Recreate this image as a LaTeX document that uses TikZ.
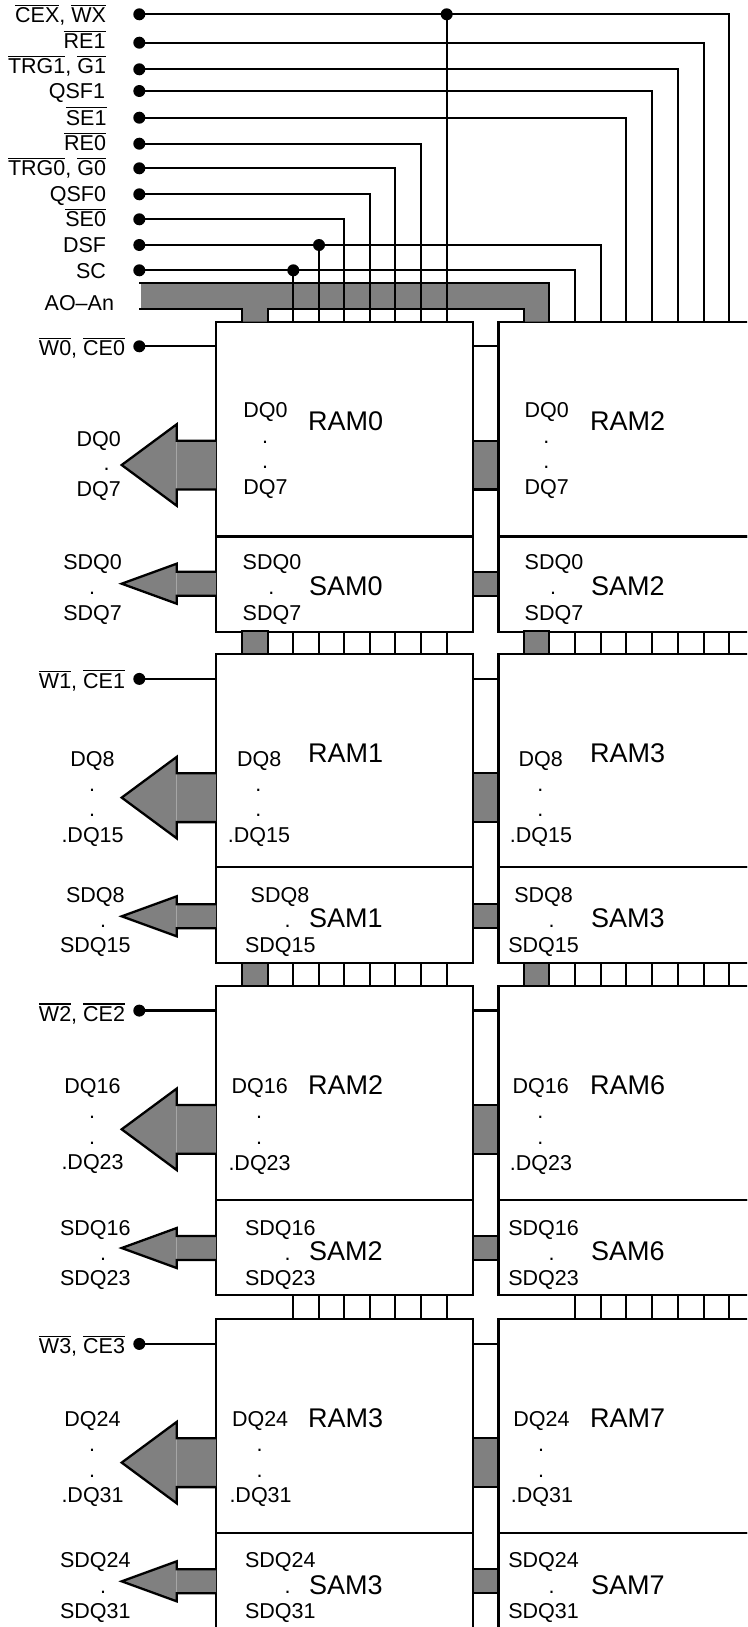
\documentclass[tikz,border=0pt]{standalone}
\usepackage{fontspec}
\setmainfont{Liberation Sans}
\definecolor{busgray}{HTML}{808080}
\definecolor{seamgray}{HTML}{A6A6A6}
\newcommand\ovl[1]{\leavevmode\vbox{\hrule height 1.2pt \kern 1.5pt \hbox{#1}}}
\newcommand\txl[4]{\node[lbl,anchor=base west,xshift=1pt] (#1) at (#2,#3) {#4};}
\newcommand\txr[4]{\node[lbl,anchor=base east] (#1) at (#2,#3) {#4};}
\newcommand\txd[3]{\node[lbl,anchor=base] (#1) at (#2,#3) {.};}
\newcommand\txb[4]{\node[biglbl,anchor=base west,xshift=1.5pt] (#1) at (#2,#3) {#4};}
\tikzset{
  lbl/.style={inner sep=0pt,outer sep=0pt,font=\fontsize{21.5}{24}\selectfont},
  biglbl/.style={inner sep=0pt,outer sep=0pt,font=\fontsize{27}{30}\selectfont},
  wire/.style={line width=2.3pt,draw=black,miter limit=10},
  blockbox/.style={draw=black,line width=2.3pt,rectangle,inner sep=0pt,outer sep=0pt,anchor=north west},
  pin/.style={circle,fill=black,inner sep=0pt,minimum size=12pt},
}
\begin{document}
\begin{tikzpicture}[x=1pt,y=-1pt]
\useasboundingbox (0,0) rectangle (747,1627);
\clip (0,0) rectangle (747,1627);
\fill[white] (0,0) rectangle (747,1627);

% memory blocks
\foreach \i/\t/\h in {0/321.7/214.8,1/654.3/213,2/986/213.7,3/1319.3/213.4}{
  \node[blockbox,minimum width=257pt,minimum height=\h pt] (ramL\i) at (216,\t) {};
  \node[blockbox,minimum width=280pt,minimum height=\h pt] (ramR\i) at (498.5,\t) {};
  \node[blockbox,minimum width=257pt,minimum height=95.5pt] (samL\i) at (ramL\i.south west) {};
  \node[blockbox,minimum width=280pt,minimum height=95.5pt] (samR\i) at (ramR\i.south west) {};
}

% bus AO-An
\fill[busgray] (141,283) -- (549,283) -- (549,321.7) -- (523.7,321.7) -- (523.7,309) -- (267.7,309) -- (267.7,321.7) -- (241.7,321.7) -- (241.7,309) -- (141,309) -- cycle;
\draw[wire] (139,283) -- (549,283) -- (549,321.7);
\draw[wire] (139,309) -- (241.7,309) -- (241.7,321.7);
\draw[wire] (523.7,321.7) -- (523.7,309) -- (267.7,309) -- (267.7,321.7);

% coordinates on the top edge of the blocks
\foreach \n/\x in {a/293.3,b/319,c/344.3,d/370,e/395.3,f/421.3,g/446.7,h/575,j/600.7,k/626.3,l/651.7,m/677.7,n/703.7,o/728.7}{
  \coordinate (top\n) at (\x,321.7);
}

% source pins
\foreach \n/\y in {cex/14.3,reb/42.7,trgb/69.3,qsfb/91,seb/117.7,rea/143.7,trga/168.3,qsfa/194.3,sea/219.3,dsf/245,sc/270.3}{
  \node[pin] (p\n) at (139.3,\y) {};
}
\node[pin] (jcex) at (446.7,14.3) {};
\node[pin] (jdsf) at (319,245) {};
\node[pin] (jsc) at (293.3,270.3) {};

% control wires
\draw[wire] (pcex.center) -| (topo);
\draw[wire] (jcex.center) -- (topg);
\draw[wire] (preb.center) -| (topn);
\draw[wire] (ptrgb.center) -| (topm);
\draw[wire] (pqsfb.center) -| (topl);
\draw[wire] (pseb.center) -| (topk);
\draw[wire] (prea.center) -| (topf);
\draw[wire] (ptrga.center) -| (tope);
\draw[wire] (pqsfa.center) -| (topd);
\draw[wire] (psea.center) -| (topc);
\draw[wire] (pdsf.center) -| (topj);
\draw[wire] (jdsf.center) -- (topb);
\draw[wire] (psc.center) -| (toph);
\draw[wire] (jsc.center) -- (topa);

% per-row parts
\foreach \i/\t in {0/321.7,1/654.3,2/986,3/1319.3}{
  \node[pin] (wpin\i) at (139.3,\t+24.6) {};
  \draw[wire] (wpin\i.center) -- (ramL\i.west |- wpin\i.center);
  \draw[wire] (ramL\i.east |- wpin\i.center) -- (ramR\i.west |- wpin\i.center);
  % data arrow
  \fill[busgray] (216,\t+119) -- (176.7,\t+119) -- (176.7,\t+102.6) -- (121.7,\t+143.3) -- (176.7,\t+184) -- (176.7,\t+167.8) -- (216,\t+167.8) -- cycle;
  \draw[seamgray,line width=.7pt] (176.7,\t+120) -- (176.7,\t+167);
  \draw[wire] (216,\t+119) -- (176.7,\t+119) -- (176.7,\t+102.6) -- (121.7,\t+143.3) -- (176.7,\t+184) -- (176.7,\t+167.8) -- (216,\t+167.8);
  % serial arrow
  \fill[busgray] (216,\t+250) -- (176.7,\t+250) -- (176.7,\t+242) -- (121.7,\t+262) -- (176.7,\t+282) -- (176.7,\t+274) -- (216,\t+274) -- cycle;
  \draw[seamgray,line width=.7pt] (176.7,\t+251) -- (176.7,\t+273);
  \draw[wire] (216,\t+250) -- (176.7,\t+250) -- (176.7,\t+242) -- (121.7,\t+262) -- (176.7,\t+282) -- (176.7,\t+274) -- (216,\t+274);
  % links between the columns
  \draw[wire,fill=busgray] (473,\t+119) rectangle (498.5,\t+167.8);
  \draw[wire,fill=busgray] (473,\t+250) rectangle (498.5,\t+274);
}

% links between the rows
\foreach \b/\e in {631.3/654.3,963.3/986}{
  \draw[wire,fill=busgray] (241.7,\b) rectangle (267.7,\e);
  \draw[wire,fill=busgray] (523.7,\b) rectangle (549,\e);
}
\foreach \b/\e in {631.3/654.3,963.3/986,1295.3/1319.3}{
  \foreach \x in {293.3,319,344.3,370,395.3,421.3,446.7,575,600.7,626.3,651.7,677.7,703.7,728.7}{
    \draw[wire] (\x,\b) -- (\x,\e);
  }
}

% signal names
\txr{lcex}{106}{22.7}{\ovl{CEX}, \ovl{WX}}
\txr{lreb}{105.5}{48.7}{\ovl{RE1}}
\txr{ltrgb}{106}{74}{\ovl{TRG1}, \ovl{G1}}
\txr{lqsfb}{105}{99}{QSF1}
\txr{lseb}{106.5}{125}{\ovl{SE1}}
\txr{lrea}{106}{150.7}{\ovl{RE0}}
\txr{ltrga}{106}{175.7}{\ovl{TRG0}, \ovl{G0}}
\txr{lqsfa}{106}{201.3}{QSF0}
\txr{lsea}{106}{226.7}{\ovl{SE0}}
\txr{ldsf}{106}{252.3}{DSF}
\txr{lsc}{106}{278}{SC}
\txr{lbus}{114}{310}{AO–An}
\txr{lw0}{125}{355.5}{\ovl{W0}, \ovl{CE0}}
\txr{lw1}{125}{688}{\ovl{W1}, \ovl{CE1}}
\txr{lw2}{125}{1021}{\ovl{W2}, \ovl{CE2}}
\txr{lw3}{125}{1353.5}{\ovl{W3}, \ovl{CE3}}

% row 0
\txl{a0a}{75.6}{446}{DQ0}\txd{a0b}{106.7}{470.7}\txl{a0c}{75.6}{496.7}{DQ7}
\txl{a0d}{62.3}{569}{SDQ0}\txd{a0e}{92}{594.7}\txl{a0f}{62.3}{620}{SDQ7}
\txl{b0a}{242.3}{417}{DQ0}\txd{b0b}{265}{443.3}\txd{b0c}{265}{468.3}\txl{b0d}{242.3}{494}{DQ7}
\txl{b0e}{241.7}{569}{SDQ0}\txd{b0f}{271.3}{594.7}\txl{b0g}{241.7}{620}{SDQ7}
\txb{b0r}{306.7}{430}{RAM0}\txb{b0s}{307.7}{595.7}{SAM0}
\txl{c0a}{523.6}{417}{DQ0}\txd{c0b}{546.3}{443.3}\txd{c0c}{546.3}{468.3}\txl{c0d}{523.6}{494}{DQ7}
\txl{c0e}{523.7}{569}{SDQ0}\txd{c0f}{553}{594.7}\txl{c0g}{523.7}{620}{SDQ7}
\txb{c0r}{588.7}{430}{RAM2}\txb{c0s}{589.7}{595.7}{SAM2}

% row 1
\txl{a1a}{69.3}{766}{DQ8}\txd{a1b}{92}{791}\txd{a1c}{92}{816.7}\txl{a1d}{60.5}{842}{.DQ15}
\txl{a1e}{65}{902}{SDQ8}\txd{a1f}{103}{927.3}\txl{a1g}{59}{952.7}{SDQ15}
\txl{b1a}{236}{766}{DQ8}\txd{b1b}{258.3}{791}\txd{b1c}{258.3}{816.7}\txl{b1d}{226.9}{842}{.DQ15}
\txl{b1e}{249.7}{902}{SDQ8}\txd{b1f}{287.7}{927.3}\txl{b1g}{244}{952.7}{SDQ15}
\txb{b1r}{306.7}{762}{RAM1}\txb{b1s}{307.7}{927.7}{SAM1}
\txl{c1a}{517.6}{766}{DQ8}\txd{c1b}{540.3}{791}\txd{c1c}{540.3}{816.7}\txl{c1d}{508.9}{842}{.DQ15}
\txl{c1e}{513.3}{902}{SDQ8}\txd{c1f}{551.7}{927.3}\txl{c1g}{507.3}{952.7}{SDQ15}
\txb{c1r}{588.7}{762}{RAM3}\txb{c1s}{589.7}{927.7}{SAM3}

% row 2
\txl{a2a}{63.3}{1093.3}{DQ16}\txd{a2b}{92}{1118.3}\txd{a2c}{92}{1144}\txl{a2d}{60.5}{1169.3}{.DQ23}
\txl{a2e}{59}{1235.3}{SDQ16}\txd{a2f}{103}{1260}\txl{a2g}{59}{1285.7}{SDQ23}
\txl{b2a}{230.6}{1093.3}{DQ16}\txd{b2b}{259}{1118.3}\txd{b2c}{259}{1144}\txl{b2d}{227.5}{1170}{.DQ23}
\txl{b2e}{244}{1235.3}{SDQ16}\txd{b2f}{287.7}{1260}\txl{b2g}{244}{1285.7}{SDQ23}
\txb{b2r}{306.7}{1094}{RAM2}\txb{b2s}{307.7}{1260}{SAM2}
\txl{c2a}{511.6}{1093.3}{DQ16}\txd{c2b}{540.3}{1118.3}\txd{c2c}{540.3}{1144}\txl{c2d}{508.9}{1170}{.DQ23}
\txl{c2e}{507.3}{1235.3}{SDQ16}\txd{c2f}{551.7}{1260}\txl{c2g}{507.3}{1285.7}{SDQ23}
\txb{c2r}{588.7}{1094}{RAM6}\txb{c2s}{589.7}{1260}{SAM6}

% row 3
\txl{a3a}{63.3}{1426}{DQ24}\txd{a3b}{92}{1451.7}\txd{a3c}{92}{1477.3}\txl{a3d}{60.5}{1502.7}{.DQ31}
\txl{a3e}{59}{1567.7}{SDQ24}\txd{a3f}{103}{1593.3}\txl{a3g}{59}{1618.7}{SDQ31}
\txl{b3a}{231}{1426}{DQ24}\txd{b3b}{259.7}{1451.7}\txd{b3c}{259.7}{1477.3}\txl{b3d}{228.5}{1502.7}{.DQ31}
\txl{b3e}{244}{1567.7}{SDQ24}\txd{b3f}{287.7}{1593.3}\txl{b3g}{244}{1618.7}{SDQ31}
\txb{b3r}{306.7}{1427.7}{RAM3}\txb{b3s}{307.7}{1594}{SAM3}
\txl{c3a}{512.3}{1426}{DQ24}\txd{c3b}{541}{1451.7}\txd{c3c}{541}{1477.3}\txl{c3d}{509.9}{1502.7}{.DQ31}
\txl{c3e}{507.3}{1567.7}{SDQ24}\txd{c3f}{551.7}{1593.3}\txl{c3g}{507.3}{1618.7}{SDQ31}
\txb{c3r}{588.7}{1427.7}{RAM7}\txb{c3s}{589.7}{1594}{SAM7}
\end{tikzpicture}
\end{document}
